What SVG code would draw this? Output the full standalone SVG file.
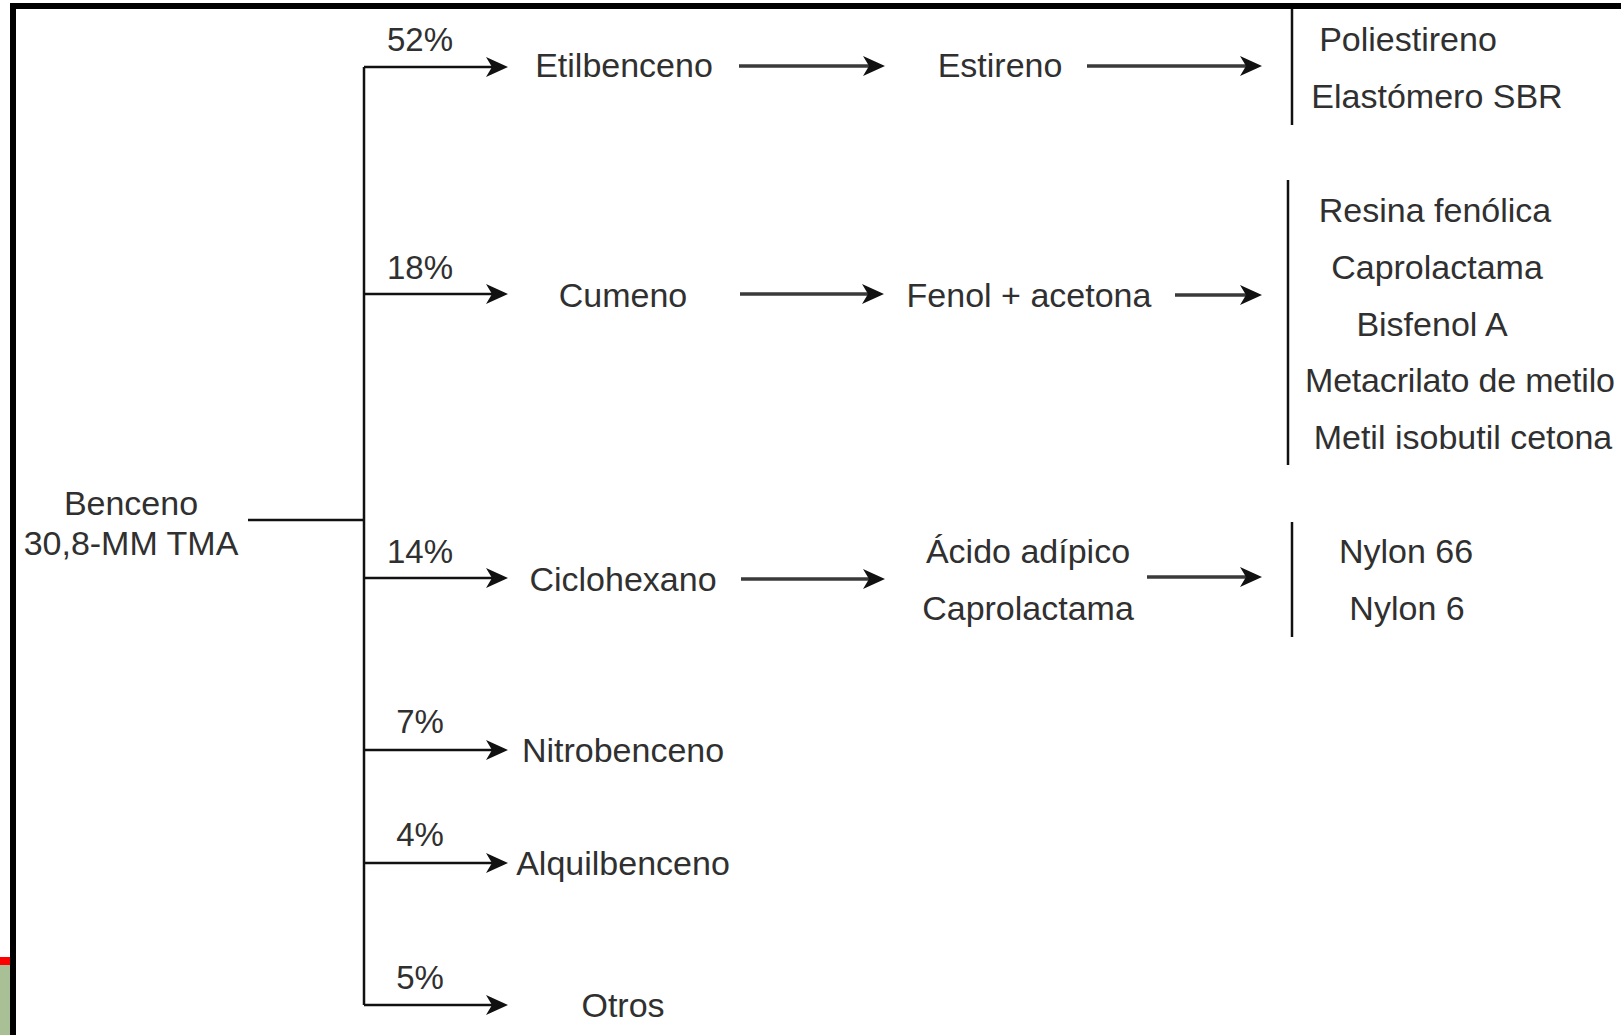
<svg xmlns="http://www.w3.org/2000/svg" width="1621" height="1035" viewBox="0 0 1621 1035">
<style>
text{font-family:"Liberation Sans",Arial,sans-serif;font-size:34px;fill:#303030;text-anchor:middle}
.pct{font-size:33px}
.st{text-anchor:start}
.trunk{stroke:#111;stroke-width:2.5;fill:none}
.flow{stroke:#3a3a3a;stroke-width:3.5;fill:none}
.bar{stroke:#111;stroke-width:2.5}
</style>
<defs>
<marker id="ah" viewBox="0 0 22 20" refX="12" refY="10" markerWidth="22" markerHeight="20" markerUnits="userSpaceOnUse" orient="auto">
<path d="M0,0 L22,10 L0,20 L6,10 Z" fill="#111"/>
</marker>
</defs>
<rect x="0" y="0" width="1621" height="1035" fill="#fff"/>
<rect x="0" y="957" width="11" height="8" fill="#ff0000"/>
<rect x="0" y="965" width="11" height="70" fill="#a9bf96"/>
<path d="M13,1035 V6 H1621" fill="none" stroke="#000" stroke-width="6"/>
<g id="connectors">
<path class="trunk" d="M248,520 H364"/>
<path class="trunk" d="M364,67 V1005"/>
<path class="trunk" d="M364,67 H498" marker-end="url(#ah)"/>
<path class="trunk" d="M364,294 H498" marker-end="url(#ah)"/>
<path class="trunk" d="M364,578 H498" marker-end="url(#ah)"/>
<path class="trunk" d="M364,750 H498" marker-end="url(#ah)"/>
<path class="trunk" d="M364,863 H498" marker-end="url(#ah)"/>
<path class="trunk" d="M364,1005 H498" marker-end="url(#ah)"/>
<path class="flow" d="M739,66 H875" marker-end="url(#ah)"/>
<path class="flow" d="M1087,66 H1252" marker-end="url(#ah)"/>
<path class="flow" d="M740,294 H874" marker-end="url(#ah)"/>
<path class="flow" d="M1175,295 H1252" marker-end="url(#ah)"/>
<path class="flow" d="M741,579 H875" marker-end="url(#ah)"/>
<path class="flow" d="M1147,577 H1252" marker-end="url(#ah)"/>
<line class="bar" x1="1292" y1="9" x2="1292" y2="125"/>
<line class="bar" x1="1288" y1="180" x2="1288" y2="465"/>
<line class="bar" x1="1292" y1="522" x2="1292" y2="637"/>
</g>
<g id="benceno"><text x="131" y="515">Benceno</text><text x="131" y="555">30,8-MM TMA</text></g>
<g id="pct52"><text class="pct" x="420" y="51">52%</text></g>
<g id="pct18"><text class="pct" x="420" y="279">18%</text></g>
<g id="pct14"><text class="pct" x="420" y="563">14%</text></g>
<g id="pct7"><text class="pct" x="420" y="733">7%</text></g>
<g id="pct4"><text class="pct" x="420" y="846">4%</text></g>
<g id="pct5"><text class="pct" x="420" y="989">5%</text></g>
<g id="etilbenceno"><text x="624" y="77">Etilbenceno</text></g>
<g id="cumeno"><text x="623" y="307">Cumeno</text></g>
<g id="ciclohexano"><text x="623" y="591">Ciclohexano</text></g>
<g id="nitrobenceno"><text x="623" y="762">Nitrobenceno</text></g>
<g id="alquilbenceno"><text x="623" y="875">Alquilbenceno</text></g>
<g id="otros"><text x="623" y="1017">Otros</text></g>
<g id="estireno"><text x="1000" y="77">Estireno</text></g>
<g id="fenol"><text x="1029" y="307">Fenol + acetona</text></g>
<g id="acido"><text x="1028" y="563">Ácido adípico</text><text x="1028" y="620">Caprolactama</text></g>
<g id="prod-estireno"><text x="1408" y="51">Poliestireno</text><text x="1437" y="108">Elastómero SBR</text></g>
<g id="prod-fenol">
<text x="1435" y="222">Resina fenólica</text>
<text x="1437" y="279">Caprolactama</text>
<text x="1432" y="336">Bisfenol A</text>
<text class="st" x="1305" y="392" textLength="310" lengthAdjust="spacing">Metacrilato de metilo</text>
<text x="1463" y="449">Metil isobutil cetona</text>
</g>
<g id="prod-acido"><text x="1406" y="563">Nylon 66</text><text x="1407" y="620">Nylon 6</text></g>
</svg>
